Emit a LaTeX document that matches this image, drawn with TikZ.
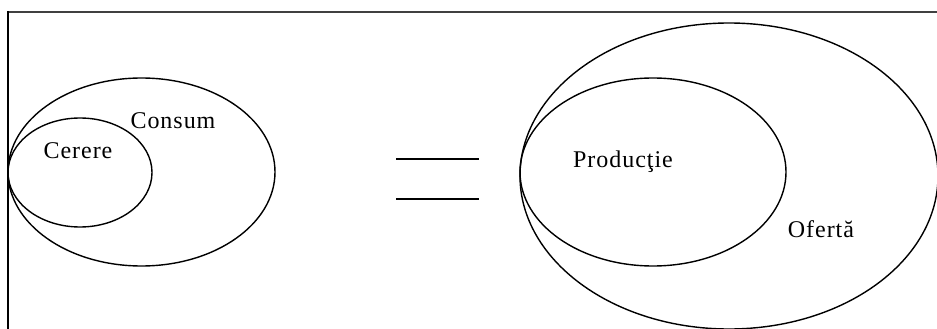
\documentclass[tikz,border=0pt]{standalone}
\usepackage{fontspec}
\usetikzlibrary{shapes.geometric}
\newfontfamily\setfont{Liberation Serif}[LetterSpace=4]
\newcommand\setlabel[3]{%
  \node[font=\setfont\fontsize{24}{28}\selectfont,inner sep=0] (#1) at (#2) {#3};}

\begin{document}
\begin{tikzpicture}[x=1pt,y=-1pt,line width=1.2pt,
  set/.style={ellipse,draw=black,line width=1.4pt,inner sep=0,outer sep=0}]
\useasboundingbox (0,0) rectangle (937,329);
\clip (0,0) rectangle (937,329);
% ---------- frame ----------
\draw[line width=1.7pt,black!75] (8,11.8) -- (945,11.8);
\draw[line width=2.5pt] (8,11) -- (8,340);
% ---------- left: Consum contains Cerere ----------
\node[set,minimum width=267pt,minimum height=188pt] (consum) at (141.5,172) {};
\node[set,minimum width=144pt,minimum height=109pt] (cerere) at (80,172.5) {};
\setlabel{lconsum}{173,121}{Consum}
\setlabel{lcerere}{78,151}{Cerere}
% ---------- equals sign ----------
\coordinate (eqa) at (396,159);
\coordinate (eqb) at (479,159);
\coordinate (eqc) at (396,199);
\coordinate (eqd) at (479,199);
\draw[line width=1.8pt] (eqa) -- (eqb) (eqc) -- (eqd);
% ---------- right: Oferta contains Productie ----------
\node[set,minimum width=418pt,minimum height=306pt] (oferta) at (729,176) {};
\node[set,minimum width=266pt,minimum height=188pt] (productie) at (653,172) {};
\setlabel{lproductie}{623,162}{Producţie}
\setlabel{loferta}{821,229}{Ofertă}
\end{tikzpicture}
\end{document}
